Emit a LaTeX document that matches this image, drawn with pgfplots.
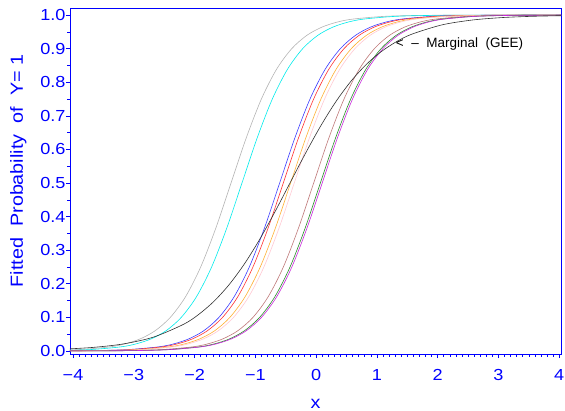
\documentclass[border=0pt]{standalone}
\usepackage{fontspec}
\setmainfont{Liberation Sans}
\newfontfamily\widefont{Liberation Sans}[FakeStretch=1.13]
\usepackage{pgfplots}
\pgfplotsset{compat=1.18}
\definecolor{sasblue}{RGB}{0,0,255}
\definecolor{cgray}{RGB}{180,180,180}
\definecolor{ccyan}{RGB}{0,235,235}
\definecolor{cblue}{RGB}{60,60,255}
\definecolor{cred}{RGB}{255,50,50}
\definecolor{corange}{RGB}{255,175,50}
\definecolor{cpink}{RGB}{255,200,210}
\definecolor{cbrown}{RGB}{190,120,120}
\definecolor{cgreen}{RGB}{40,140,40}
\definecolor{cpurple}{RGB}{200,40,220}
\definecolor{cblack}{RGB}{50,50,50}
\begin{document}
\begin{tikzpicture}
\useasboundingbox (-70bp,-57bp) rectangle (495bp,354bp);
\begin{axis}[
 at={(0,0)}, anchor=south west,
 scale only axis, width=491bp, height=346bp,
 xmin=-4.05, xmax=4.03, ymin=-0.009, ymax=1.021,
 xtick={-4,-3,-2,-1,0,1,2,3,4}, xticklabels={−4,−3,−2,−1,0,1,2,3,4},
 ytick={0,0.1,0.2,0.3,0.4,0.5,0.6,0.7,0.8,0.9,1},
 yticklabels={0.0,0.1,0.2,0.3,0.4,0.5,0.6,0.7,0.8,0.9,1.0},
 minor x tick num=9, minor y tick num=1,
 tick align=outside, xtick pos=bottom, ytick pos=left,
 major tick length=4bp, minor tick length=2.5bp,
 axis line style={sasblue, line width=0.8bp},
 tick style={sasblue, line width=0.6bp},
 ticklabel style={font=\widefont\fontsize{16bp}{19bp}\selectfont, text=sasblue},
 xticklabel style={yshift=-8bp},
 yticklabel style={xshift=3bp},
 xlabel={x}, ylabel={Fitted\ \ Probability\ \ of\ \ Y=\ 1},
 label style={font=\widefont\fontsize{17.5bp}{21bp}\selectfont, text=sasblue},
 xlabel style={at={(axis description cs:0.5,-0.1445)}, anchor=center},
 ylabel style={at={(axis description cs:-0.105,0.529)}, anchor=center},
 every axis plot/.append style={line width=0.6bp, smooth, no markers},
]
% gray
\addplot[cgray] coordinates {(-4.40,0.0014)(-3.90,0.0041)(-3.40,0.0121)(-3.15,0.0208)(-2.90,0.0356)(-2.65,0.0601)(-2.40,0.0998)(-2.15,0.1611)(-1.90,0.2497)(-1.65,0.3659)(-1.40,0.5)(-1.15,0.6341)(-0.90,0.7503)(-0.65,0.8389)(-0.40,0.9002)(-0.15,0.9399)(0.10,0.9644)(0.35,0.9792)(0.60,0.9879)(1.10,0.9959)(1.60,0.9986)(2.10,0.9995)(2.60,0.9998)(3.10,1.0)(3.60,1.0)(4.10,1.0)};
% cyan
\addplot[ccyan] coordinates {(-4.22,0.0014)(-3.72,0.0041)(-3.22,0.0121)(-2.97,0.0208)(-2.72,0.0356)(-2.47,0.0601)(-2.22,0.0998)(-1.97,0.1611)(-1.72,0.2497)(-1.47,0.3659)(-1.22,0.5)(-0.97,0.6341)(-0.72,0.7503)(-0.47,0.8389)(-0.22,0.9002)(0.03,0.9399)(0.28,0.9644)(0.53,0.9792)(0.78,0.9879)(1.28,0.9959)(1.78,0.9986)(2.28,0.9995)(2.78,0.9998)(3.28,1.0)(3.78,1.0)(4.28,1.0)};
% blue
\addplot[cblue] coordinates {(-4.60,0.0002)(-4.10,0.0005)(-3.60,0.0014)(-3.10,0.0041)(-2.60,0.0121)(-2.35,0.0208)(-2.10,0.0356)(-1.85,0.0601)(-1.60,0.0998)(-1.35,0.1611)(-1.10,0.2497)(-0.85,0.3659)(-0.60,0.5)(-0.35,0.6341)(-0.10,0.7503)(0.15,0.8389)(0.40,0.9002)(0.65,0.9399)(0.90,0.9644)(1.15,0.9792)(1.40,0.9879)(1.90,0.9959)(2.40,0.9986)(2.90,0.9995)(3.40,0.9998)(3.90,1.0)(4.40,1.0)};
% red
\addplot[cred] coordinates {(-4.54,0.0002)(-4.04,0.0005)(-3.54,0.0014)(-3.04,0.0041)(-2.54,0.0121)(-2.29,0.0208)(-2.04,0.0356)(-1.79,0.0601)(-1.54,0.0998)(-1.29,0.1611)(-1.04,0.2497)(-0.79,0.3659)(-0.54,0.5)(-0.29,0.6341)(-0.04,0.7503)(0.21,0.8389)(0.46,0.9002)(0.71,0.9399)(0.96,0.9644)(1.21,0.9792)(1.46,0.9879)(1.96,0.9959)(2.46,0.9986)(2.96,0.9995)(3.46,0.9998)(3.96,1.0)(4.46,1.0)};
% orange
\addplot[corange] coordinates {(-4.42,0.0002)(-3.92,0.0005)(-3.42,0.0014)(-2.92,0.0041)(-2.42,0.0121)(-2.17,0.0208)(-1.92,0.0356)(-1.67,0.0601)(-1.42,0.0998)(-1.17,0.1611)(-0.92,0.2497)(-0.67,0.3659)(-0.42,0.5)(-0.17,0.6341)(0.08,0.7503)(0.33,0.8389)(0.58,0.9002)(0.83,0.9399)(1.08,0.9644)(1.33,0.9792)(1.58,0.9879)(2.08,0.9959)(2.58,0.9986)(3.08,0.9995)(3.58,0.9998)(4.08,1.0)};
% pink
\addplot[cpink] coordinates {(-4.36,0.0002)(-3.86,0.0005)(-3.36,0.0014)(-2.86,0.0041)(-2.36,0.0121)(-2.11,0.0208)(-1.86,0.0356)(-1.61,0.0601)(-1.36,0.0998)(-1.11,0.1611)(-0.86,0.2497)(-0.61,0.3659)(-0.36,0.5)(-0.11,0.6341)(0.14,0.7503)(0.39,0.8389)(0.64,0.9002)(0.89,0.9399)(1.14,0.9644)(1.39,0.9792)(1.64,0.9879)(2.14,0.9959)(2.64,0.9986)(3.14,0.9995)(3.64,0.9998)(4.14,1.0)};
% brown
\addplot[cbrown] coordinates {(-4.54,0.0000)(-4.04,0.0002)(-3.54,0.0005)(-3.04,0.0014)(-2.54,0.0041)(-2.04,0.0121)(-1.79,0.0208)(-1.54,0.0356)(-1.29,0.0601)(-1.04,0.0998)(-0.79,0.1611)(-0.54,0.2497)(-0.29,0.3659)(-0.04,0.5)(0.21,0.6341)(0.46,0.7503)(0.71,0.8389)(0.96,0.9002)(1.21,0.9399)(1.46,0.9644)(1.71,0.9792)(1.96,0.9879)(2.46,0.9959)(2.96,0.9986)(3.46,0.9995)(3.96,0.9998)(4.46,1.0)};
% green
\addplot[cgreen] coordinates {(-4.43,0.0000)(-3.93,0.0002)(-3.43,0.0005)(-2.93,0.0014)(-2.43,0.0041)(-1.93,0.0121)(-1.68,0.0208)(-1.43,0.0356)(-1.18,0.0601)(-0.93,0.0998)(-0.68,0.1611)(-0.43,0.2497)(-0.18,0.3659)(0.07,0.5)(0.32,0.6341)(0.57,0.7503)(0.82,0.8389)(1.07,0.9002)(1.32,0.9399)(1.57,0.9644)(1.82,0.9792)(2.07,0.9879)(2.57,0.9959)(3.07,0.9986)(3.57,0.9995)(4.07,0.9998)};
% purple
\addplot[cpurple] coordinates {(-4.40,0.0000)(-3.90,0.0002)(-3.40,0.0005)(-2.90,0.0014)(-2.40,0.0041)(-1.90,0.0121)(-1.65,0.0208)(-1.40,0.0356)(-1.15,0.0601)(-0.90,0.0998)(-0.65,0.1611)(-0.40,0.2497)(-0.15,0.3659)(0.10,0.5)(0.35,0.6341)(0.60,0.7503)(0.85,0.8389)(1.10,0.9002)(1.35,0.9399)(1.60,0.9644)(1.85,0.9792)(2.10,0.9879)(2.60,0.9959)(3.10,0.9986)(3.60,0.9995)(4.10,0.9998)};
% marginal (GEE)
\addplot[cblack] coordinates {(-4.18,0.0052)(-3.68,0.0105)(-3.18,0.0208)(-2.68,0.0411)(-2.18,0.0795)(-1.93,0.1091)(-1.68,0.1480)(-1.43,0.1978)(-1.18,0.2592)(-0.93,0.3318)(-0.68,0.4134)(-0.43,0.5)(-0.18,0.5866)(0.07,0.6682)(0.32,0.7408)(0.57,0.8022)(0.82,0.8520)(1.07,0.8909)(1.32,0.9205)(1.57,0.9427)(2.07,0.9707)(2.57,0.9852)(3.07,0.9926)(3.57,0.9963)(4.07,0.9982)};
\node[anchor=west, inner sep=0pt, font=\fontsize{13.5bp}{16bp}\selectfont] at (axis cs:1.31,0.914) {<\ \ –\ \ Marginal\ \ (GEE)};
\end{axis}
\end{tikzpicture}
\end{document}
